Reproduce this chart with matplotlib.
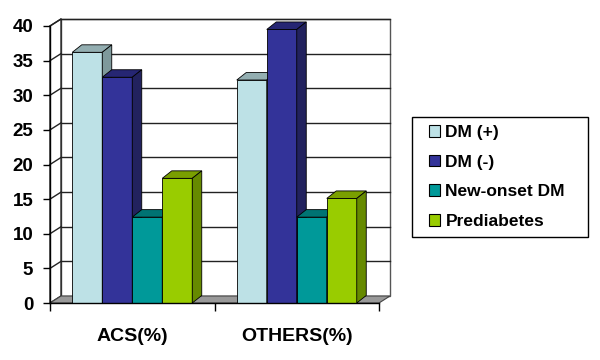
import matplotlib
matplotlib.use("Agg")
import matplotlib.pyplot as plt
from matplotlib.patches import Polygon, Rectangle, Patch

categories = ["ACS(%)", "OTHERS(%)"]
series = ["DM (+)", "DM (-)", "New-onset DM", "Prediabetes"]
dm_pos = [36.2, 32.2]
dm_neg = [32.6, 39.5]
new_onset = [12.4, 12.4]
prediabetes = [18.0, 15.1]
values = [dm_pos, dm_neg, new_onset, prediabetes]
yticks = [0, 5, 10, 15, 20, 25, 30, 35, 40]

# front, top, side colours for each series
face_cols = ["#BDE1E6", "#333399", "#009999", "#99CC00"]
top_cols = ["#93AEB1", "#262673", "#007373", "#7A9F00"]
side_cols = ["#7E999B", "#22225E", "#006868", "#668A00"]

plt.rcParams['font.family'] = ['Liberation Sans', 'DejaVu Sans']

fig = plt.figure(figsize=(6, 3.6), dpi=100)
ax = fig.add_axes([50/600, 57/360, 329/600, 277/360])
ax.set_xlim(0, 2)
ax.set_ylim(0, 40)

# depth offsets in data units
wdx, wdy = 11/164.5, 7/6.925
bdx, bdy = 9.5/164.5, 7.5/6.925
bw = 30/164.5

# walls and floor
ax.add_patch(Rectangle((wdx, wdy), 2, 40, facecolor="white", edgecolor="#555555",
                       lw=1, zorder=0.5, clip_on=False))
ax.add_patch(Polygon([(0, 0), (wdx, wdy), (wdx, 40 + wdy), (0, 40)], closed=True,
                     facecolor="white", edgecolor="#222222", lw=1, zorder=0.5, clip_on=False))
for y in yticks[1:]:
    ax.plot([wdx, 2 + wdx], [y + wdy, y + wdy], color="#222222", lw=1, zorder=0.6, clip_on=False)
    ax.plot([0, wdx], [y, y + wdy], color="#222222", lw=1, zorder=0.6, clip_on=False)
ax.add_patch(Polygon([(0, 0), (2, 0), (2 + wdx, wdy), (wdx, wdy)], closed=True,
                     facecolor="#999999", edgecolor="#444444", lw=0.8, zorder=0.7, clip_on=False))

# 3D bars, drawn left to right so later fronts hide earlier sides
z = 1.0
for ci in range(len(categories)):
    for si in range(len(series)):
        v = values[si][ci]
        x0 = ci + 0.5 + (si - 2) * bw
        ax.bar(x0, v, width=bw, align="edge", color=face_cols[si], edgecolor="black",
               lw=0.6, zorder=z)
        ax.add_patch(Polygon([(x0, v), (x0 + bw, v), (x0 + bw + bdx, v + bdy), (x0 + bdx, v + bdy)],
                             closed=True, facecolor=top_cols[si], edgecolor="black", lw=0.6,
                             zorder=z, clip_on=False))
        ax.add_patch(Polygon([(x0 + bw, 0), (x0 + bw + bdx, bdy), (x0 + bw + bdx, v + bdy), (x0 + bw, v)],
                             closed=True, facecolor=side_cols[si], edgecolor="black", lw=0.6,
                             zorder=z, clip_on=False))
        z += 0.01

for s in ["top", "right"]:
    ax.spines[s].set_visible(False)
for s in ["left", "bottom"]:
    ax.spines[s].set_color("black")
    ax.spines[s].set_linewidth(1)
    ax.spines[s].set_zorder(3)

ax.set_yticks(yticks)
ax.set_yticklabels([str(t) for t in yticks], fontsize=13.5, fontweight="bold")
ax.tick_params(axis="y", length=5, width=1, pad=7)
ax.set_xticks([0, 1, 2])
ax.set_xticklabels([])
ax.set_xticks([0.5, 1.5], minor=True)
ax.set_xticklabels(categories, minor=True, fontsize=14, fontweight="bold")
ax.tick_params(axis="x", which="major", length=6, width=1)
ax.tick_params(axis="x", which="minor", length=0, pad=18)

# legend
fig.patches.append(Rectangle((412/600, (360-237)/360), 176/600, 120/360, transform=fig.transFigure,
                             facecolor="white", edgecolor="black", lw=1))
handles = [Patch(facecolor=c, edgecolor="black", lw=0.8) for c in face_cols]
fig.legend(handles, series, loc="center left", bbox_to_anchor=(429/600, (360-177)/360),
           frameon=False, borderpad=0, borderaxespad=0,
           prop={"weight": "bold", "size": 12.5}, handlelength=0.65, handleheight=0.65,
           handletextpad=0.3, labelspacing=0.85)

fig.savefig("out.png", dpi=100)
